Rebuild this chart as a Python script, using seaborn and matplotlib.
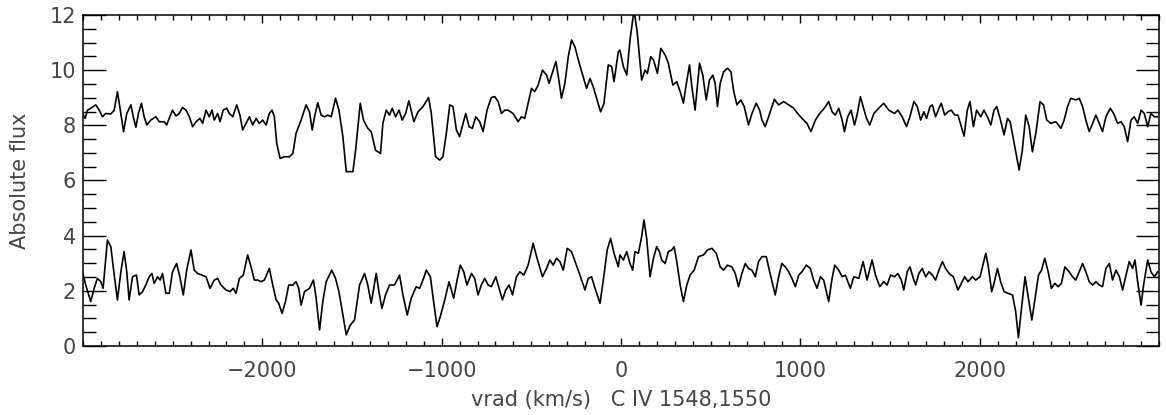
import matplotlib
matplotlib.use("Agg")
import matplotlib.pyplot as plt
import seaborn as sns
import pandas as pd
from matplotlib.ticker import MultipleLocator

# ---------------- data ----------------
vel_upper = [
    -3003, -2988, -2975, -2957, -2929, -2910, -2892, -2873, -2845, -2826,
    -2808, -2795, -2774, -2756, -2733, -2720, -2705, -2691, -2674, -2659,
    -2644, -2622, -2594, -2575, -2547, -2534, -2516, -2501, -2482, -2463,
    -2445, -2426, -2407, -2389, -2370, -2348, -2333, -2314, -2296, -2281,
    -2268, -2249, -2236, -2218, -2199, -2184, -2165, -2143, -2125, -2110,
    -2091, -2072, -2054, -2035, -2017, -1998, -1979, -1961, -1946, -1933,
    -1920, -1901, -1877, -1849, -1830, -1812, -1784, -1756, -1737, -1722,
    -1709, -1691, -1672, -1653, -1635, -1616, -1592, -1573, -1551, -1532,
    -1505,
    -1495, -1480, -1454, -1436, -1412, -1393, -1369, -1341, -1328, -1309,
    -1291, -1276, -1257, -1238, -1220, -1201, -1183, -1155, -1132, -1104,
    -1073, -1058, -1034, -1011, -993, -974, -955, -937, -918, -900,
    -866, -847, -829, -810, -788, -769, -747, -723, -704, -685,
    -667, -648, -630, -602, -574, -555, -537, -518, -499, -481,
    -462, -438, -415, -401, -387, -363, -345, -332, -313, -294,
    -276, -257, -233, -211, -192, -173, -155, -136, -114, -95,
    -71, -52, -39, -15,
    -6, 13, 32, 50, 69, 78, 91, 106, 115, 134,
    147, 166, 181, 203, 222, 246, 264, 289, 311, 330,
    348, 363, 382, 395, 413, 438, 456, 475, 493, 512,
    525, 538, 553, 572, 594, 613, 627, 646, 668, 687,
    711, 730, 754, 773, 786, 804, 823, 855, 879, 907,
    935, 963, 985, 1009, 1037, 1059, 1084, 1108, 1134, 1158,
    1177, 1195, 1214, 1233, 1246, 1264, 1283, 1302, 1316, 1335,
    1350, 1369, 1387, 1410, 1437, 1465, 1493,
    1525, 1544, 1568, 1592, 1611, 1633, 1652, 1671, 1689, 1704,
    1723, 1736, 1754, 1773, 1786, 1805, 1823, 1842, 1861, 1879,
    1898, 1913, 1931, 1946, 1965, 1983, 2006, 2024, 2043, 2062,
    2080, 2095, 2114, 2136, 2155, 2170, 2196, 2220, 2238, 2257,
    2276, 2294, 2313, 2337, 2356, 2374, 2397, 2425, 2453, 2471,
    2490, 2508, 2536, 2555, 2574, 2592, 2611, 2630, 2648, 2667,
    2685, 2704, 2728, 2747, 2769, 2788, 2806, 2825, 2844, 2862,
    2881, 2900, 2918, 2937, 2955, 2974, 2993,
]
flux_upper = [
    8.43, 8.25, 8.55, 8.62, 8.74, 8.55, 8.31, 8.43, 8.41, 8.55,
    9.22, 8.68, 7.77, 8.43, 8.74, 8.31, 7.93, 8.43, 8.80, 8.31,
    8.01, 8.19, 8.31, 8.13, 8.13, 8.01, 8.31, 8.55, 8.34, 8.43,
    8.65, 8.55, 8.31, 7.95, 8.13, 8.25, 8.07, 8.55, 8.31, 8.55,
    8.19, 8.43, 8.13, 8.55, 8.62, 8.43, 8.31, 8.74, 8.37, 7.83,
    8.07, 8.31, 8.01, 8.25, 8.07, 8.19, 8.01, 8.43, 8.55, 8.31,
    7.35, 6.80, 6.86, 6.86, 6.98, 7.71, 8.19, 8.74, 8.49, 7.83,
    8.31, 8.82, 8.37, 8.31, 8.37, 8.31, 8.98, 8.55, 7.59, 6.32,
    6.32,
    6.32, 7.10, 8.80, 8.19, 7.89, 7.77, 7.10, 6.98, 8.07, 8.55,
    8.37, 8.62, 8.31, 8.55, 8.19, 8.43, 8.89, 8.13, 8.49, 8.68,
    9.01, 8.43, 6.86, 6.74, 6.86, 7.71, 8.74, 8.68, 7.83, 7.59,
    8.43, 7.95, 7.89, 8.31, 8.13, 7.77, 8.55, 9.01, 9.04, 8.86,
    8.43, 8.55, 8.55, 8.43, 8.13, 8.31, 8.25, 8.80, 9.34, 9.22,
    9.46, 10.00, 9.82, 9.52, 9.82, 10.31, 9.58, 8.98, 9.52, 10.49,
    11.09, 10.85, 10.25, 9.76, 9.34, 9.70, 9.40, 8.98, 8.49, 8.80,
    10.19, 10.13, 9.58, 10.67,
    10.73, 10.13, 9.82, 11.09, 12.00, 11.94, 11.33, 10.25, 9.64, 10.00,
    9.88, 10.49, 10.37, 9.88, 10.79, 10.55, 10.25, 9.46, 9.58, 9.22,
    8.80, 9.46, 10.19, 9.40, 8.55, 10.25, 9.82, 8.92, 9.64, 9.82,
    9.52, 8.68, 9.52, 9.94, 10.07, 9.94, 9.28, 8.74, 8.92, 8.68,
    8.01, 8.43, 8.80, 8.55, 8.19, 7.95, 8.31, 8.94, 8.74, 8.86,
    8.74, 8.62, 8.43, 8.25, 8.07, 7.77, 8.19, 8.43, 8.62, 8.86,
    8.49, 8.37, 8.62, 8.19, 7.77, 8.31, 8.55, 8.01, 8.37, 9.04,
    8.68, 8.25, 8.01, 8.43, 8.62, 8.80, 8.55,
    8.43, 8.55, 8.31, 7.95, 8.31, 8.86, 8.68, 8.19, 8.49, 8.25,
    8.68, 8.74, 8.31, 8.62, 8.80, 8.37, 8.49, 8.55, 8.37, 8.37,
    7.95, 7.61, 8.55, 8.86, 7.95, 8.55, 8.31, 8.55, 8.31, 8.01,
    8.55, 8.68, 8.25, 7.65, 8.25, 8.13, 7.23, 6.38, 7.10, 8.37,
    7.95, 7.04, 7.71, 8.86, 8.74, 8.19, 8.07, 8.13, 7.89, 8.19,
    8.68, 8.98, 8.92, 8.98, 8.68, 8.19, 7.77, 8.07, 8.37, 8.07,
    7.77, 8.31, 8.62, 8.43, 8.07, 8.13, 7.95, 7.41, 8.19, 8.31,
    8.07, 8.55, 8.43, 7.95, 8.43, 8.31, 8.31,
]

vel_lower = [
    -3003, -2985, -2957, -2938, -2920, -2901, -2888, -2864, -2845, -2826,
    -2808, -2789, -2771, -2756, -2743, -2724, -2702, -2687, -2668, -2650,
    -2631, -2616, -2603, -2584, -2570, -2557, -2538, -2519, -2501, -2478,
    -2460, -2441, -2422, -2398, -2380, -2361, -2337, -2314, -2292, -2268,
    -2249, -2231, -2203, -2180, -2162, -2147, -2128, -2106, -2082, -2063,
    -2045, -2026, -2007, -1989, -1961, -1942, -1923, -1909, -1890, -1871,
    -1853, -1830, -1812, -1797, -1784, -1765, -1737, -1715, -1700, -1681,
    -1663, -1644, -1613, -1592, -1573, -1551, -1532, -1510,
    -1486, -1458, -1430, -1412, -1393, -1365, -1350, -1333, -1313, -1291,
    -1263, -1235, -1216, -1192, -1170, -1142, -1123, -1101, -1086, -1063,
    -1045, -1026, -1008, -983, -959, -933, -914, -896, -877, -859,
    -834, -816, -797, -779, -760, -741, -723, -698, -680, -661,
    -643, -624, -605, -583, -564, -542, -518, -490, -468, -438,
    -415, -397, -378, -360, -341, -322, -300, -276, -252, -229,
    -201, -183, -164, -145, -117, -95, -77, -58, -39, -15,
    -6, 13, 32, 50, 65, 78, 97, 115, 128, 143,
    162, 181, 199, 214, 227, 246, 264, 283, 296, 311,
    330, 348, 367, 385, 408, 432, 460, 482, 507, 531,
    553, 572, 594, 618, 637, 655, 674, 693, 711, 730,
    749, 767, 786, 810, 829, 847, 860, 879, 897, 916,
    935, 953, 972, 991, 1009, 1033, 1056, 1074, 1093, 1112,
    1130, 1158, 1177, 1192, 1214, 1233, 1251, 1279, 1298, 1326,
    1350, 1372, 1400, 1419, 1443, 1465, 1484,
    1503, 1525, 1544, 1563, 1577, 1596, 1611, 1630, 1643, 1661,
    1680, 1699, 1717, 1736, 1754, 1773, 1792, 1810, 1829, 1853,
    1879, 1898, 1916, 1935, 1959, 1978, 2002, 2034, 2047, 2067,
    2080, 2099, 2117, 2136, 2158, 2183, 2201, 2216, 2235, 2253,
    2272, 2291, 2309, 2328, 2345, 2363, 2382, 2400, 2419, 2438,
    2456, 2475, 2499, 2518, 2536, 2555, 2574, 2592, 2611, 2630,
    2648, 2667, 2685, 2704, 2723, 2741, 2760, 2779, 2797, 2816,
    2834, 2853, 2866, 2881, 2900, 2914, 2937, 2955, 2974, 2993,
]
flux_lower = [
    2.69, 2.21, 1.61, 2.09, 2.45, 2.33, 2.09, 3.84, 3.60, 2.57,
    1.67, 2.69, 3.42, 2.69, 1.67, 2.51, 2.57, 1.85, 1.97, 2.21,
    2.51, 2.63, 2.27, 2.51, 2.39, 2.63, 1.91, 1.91, 2.69, 2.99,
    2.51, 1.85, 2.75, 3.48, 2.75, 2.63, 2.57, 2.51, 2.09, 2.39,
    2.45, 2.21, 2.03, 1.97, 2.09, 1.91, 2.45, 2.57, 3.30, 2.87,
    2.39, 2.39, 2.33, 2.39, 2.81, 2.21, 1.67, 1.55, 1.18, 1.61,
    2.21, 2.21, 2.33, 2.09, 1.48, 1.97, 2.09, 2.39, 1.73, 0.58,
    1.61, 2.33, 2.75, 2.45, 1.97, 1.12, 0.40, 0.76,
    0.94, 2.21, 2.63, 2.21, 1.55, 2.63, 1.97, 1.36, 1.85, 2.21,
    2.21, 2.57, 1.85, 1.12, 1.73, 2.15, 2.09, 2.45, 2.75, 2.51,
    1.61, 0.70, 1.06, 1.67, 2.33, 1.73, 2.39, 2.93, 2.69, 2.21,
    2.63, 2.45, 1.85, 2.21, 2.45, 2.21, 2.15, 2.51, 2.09, 1.67,
    2.03, 2.21, 1.85, 2.51, 2.69, 2.57, 2.93, 3.72, 3.18, 2.51,
    2.81, 3.12, 2.93, 3.18, 3.06, 2.75, 3.54, 3.42, 2.99, 2.57,
    2.03, 2.45, 2.51, 2.09, 1.55, 2.57, 3.48, 3.90, 3.36, 2.87,
    3.30, 3.12, 3.42, 2.99, 2.75, 3.42, 3.36, 3.96, 4.57, 3.90,
    2.51, 3.18, 3.60, 3.42, 3.12, 2.99, 3.42, 3.48, 3.60, 3.06,
    2.21, 1.61, 2.21, 2.57, 2.75, 3.24, 3.30, 3.48, 3.54, 3.36,
    2.87, 2.75, 2.93, 2.87, 2.63, 2.15, 2.63, 2.99, 2.81, 2.75,
    2.51, 3.06, 3.24, 3.24, 2.69, 2.21, 1.85, 2.51, 2.99, 2.87,
    2.69, 2.45, 2.15, 2.57, 2.69, 2.93, 2.81, 2.39, 2.09, 2.51,
    2.39, 1.61, 2.45, 2.93, 2.75, 2.51, 2.57, 2.09, 2.51, 2.45,
    3.06, 2.39, 3.12, 2.57, 2.15, 2.33, 2.21,
    2.57, 2.51, 2.63, 2.39, 2.03, 2.69, 2.87, 2.45, 2.21, 2.63,
    2.81, 2.51, 2.69, 2.57, 2.39, 2.75, 3.06, 2.81, 2.63, 2.51,
    2.03, 2.27, 2.51, 2.33, 2.51, 2.39, 2.51, 3.36, 2.93, 1.97,
    2.27, 2.81, 2.33, 1.97, 1.91, 1.85, 1.24, 0.30, 1.48, 2.51,
    1.73, 0.94, 1.73, 2.57, 2.75, 3.18, 2.69, 2.09, 2.27, 2.15,
    2.27, 2.87, 2.69, 2.51, 2.39, 2.69, 2.99, 2.69, 2.33, 2.21,
    2.33, 2.21, 2.15, 2.81, 2.99, 2.39, 2.75, 2.51, 2.03, 2.57,
    3.06, 2.81, 3.12, 2.33, 1.48, 2.21, 3.12, 2.69, 2.51, 2.69,
]

x_ticks = [-2000, -1000, 0, 1000, 2000]
y_ticks = [0, 2, 4, 6, 8, 10, 12]
x_label = "vrad (km/s)   C IV 1548,1550"
y_label = "Absolute flux"

# ---------------- figure ----------------
sns.set_theme(style="ticks")
plt.rcParams["font.family"] = ["DejaVu Sans"]

df = pd.concat([
    pd.DataFrame({"vel": vel_upper, "flux": flux_upper, "series": "upper"}),
    pd.DataFrame({"vel": vel_lower, "flux": flux_lower, "series": "lower"}),
], ignore_index=True)

fig = plt.figure(figsize=(11.66, 4.15), dpi=100)
ax = fig.add_axes([0.0712, 0.1663, 0.9228, 0.7976])

sns.lineplot(data=df, x="vel", y="flux", units="series", estimator=None,
             sort=False, color="black", linewidth=1.2, ax=ax, legend=False)

ax.set_xlim(-3000, 3000)
ax.set_ylim(0, 12)
ax.set_xticks(x_ticks)
ax.set_yticks(y_ticks)
ax.xaxis.set_minor_locator(MultipleLocator(100))
ax.yaxis.set_minor_locator(MultipleLocator(0.5))

txt_color = "#444444"
ax.tick_params(axis="x", which="major", direction="in", length=5.5, width=1.0,
               top=True, bottom=True, pad=11, labelsize=15, labelcolor=txt_color,
               color="black")
ax.tick_params(axis="x", which="minor", direction="in", length=3.6, width=1.0,
               top=True, bottom=True, color="black")
ax.tick_params(axis="y", which="major", direction="in", length=16.5, width=1.0,
               left=True, right=True, pad=5, labelsize=15, labelcolor=txt_color,
               color="black")
ax.tick_params(axis="y", which="minor", direction="in", length=9.5, width=1.0,
               left=True, right=True, color="black")
ax.set_xticklabels([f"\u2212{abs(t)}" if t < 0 else f"{t}" for t in x_ticks])

for s in ax.spines.values():
    s.set_visible(True)
    s.set_color("black")
    s.set_linewidth(1.1)

ax.set_xlabel(x_label, fontsize=15, color=txt_color, labelpad=6)
ax.set_ylabel(y_label, fontsize=15, color=txt_color, labelpad=14)
ax.grid(False)
ax.set_facecolor("white")
fig.patch.set_facecolor("white")

fig.savefig("out.png", dpi=100, facecolor="white")
